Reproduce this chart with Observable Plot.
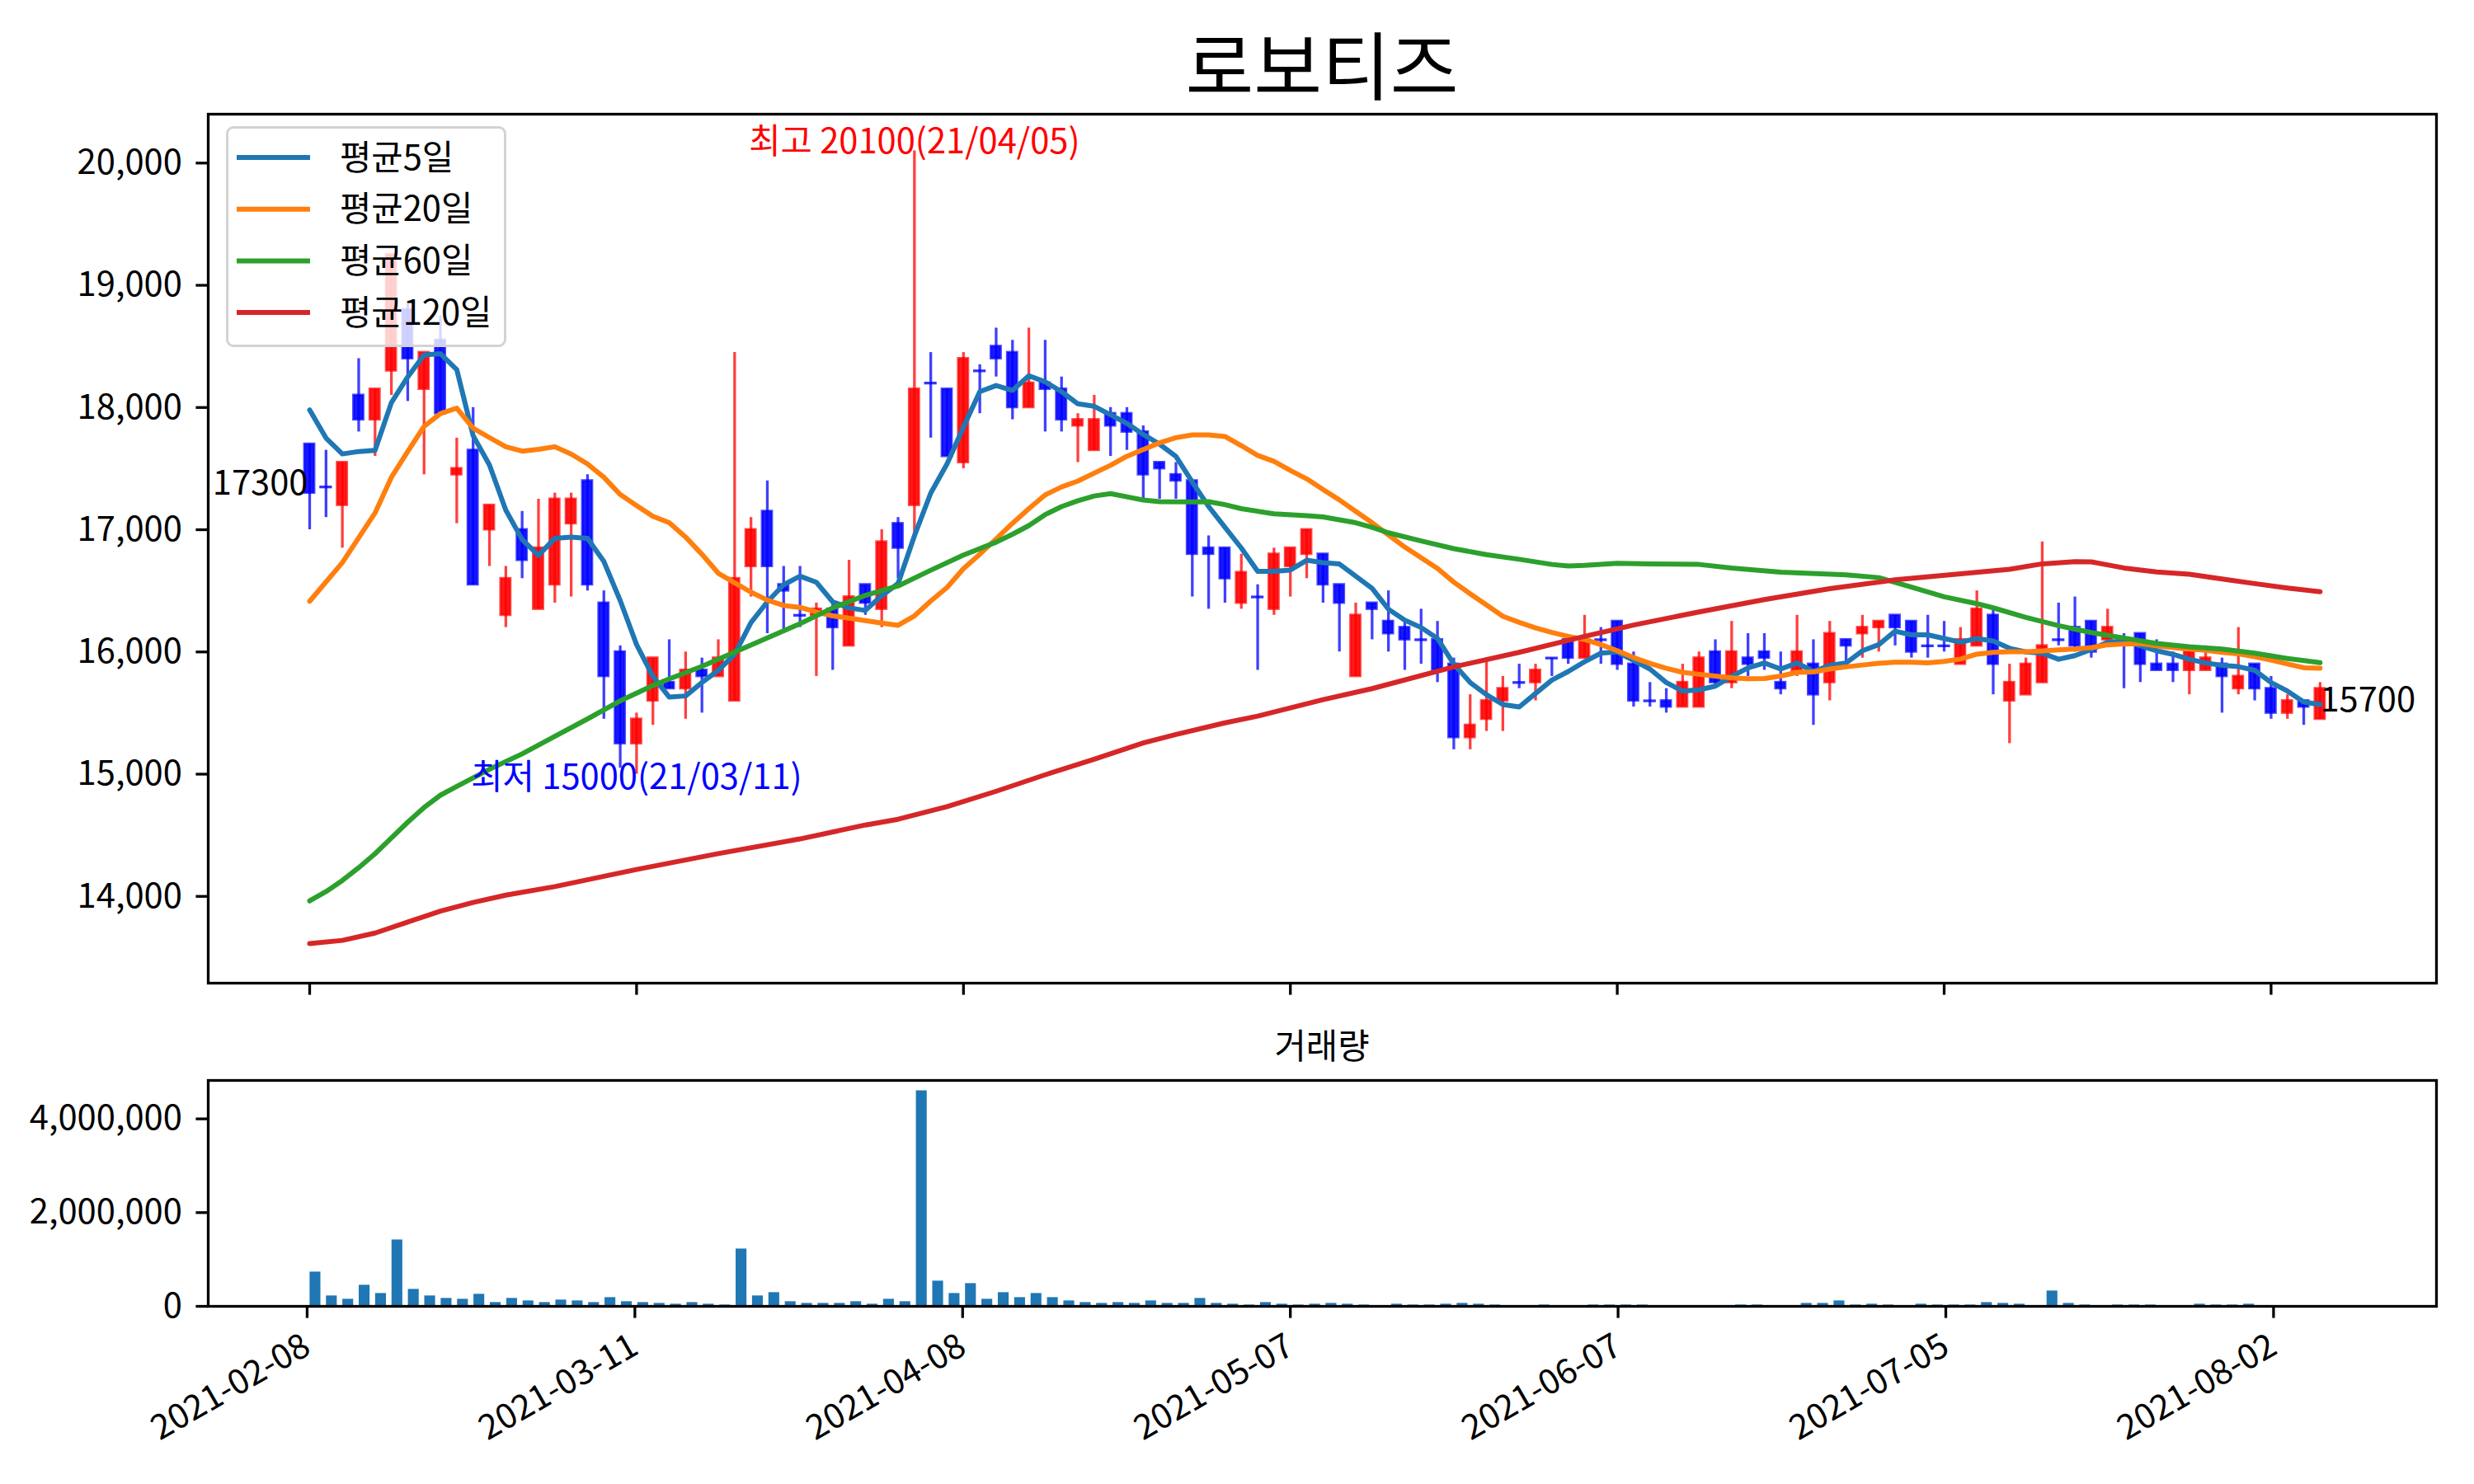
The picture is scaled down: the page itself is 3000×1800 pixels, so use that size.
<!DOCTYPE html>
<html><head><meta charset="utf-8">
<script src="https://cdn.jsdelivr.net/npm/d3@7"></script>
<script src="https://cdn.jsdelivr.net/npm/@observablehq/plot@0.6"></script>
<style>
body{margin:0;background:#fff;}
#wrap{position:relative;width:3000px;height:1800px;overflow:hidden;font-family:"Noto Sans CJK KR","Noto Sans",sans-serif;color:#000;}
#title{position:absolute;left:252px;width:2702px;top:30px;text-align:center;font-size:90px;line-height:1;}
#vtitle{position:absolute;left:252px;width:2702px;top:1246px;text-align:center;font-size:41.7px;line-height:1;}
#main{position:absolute;left:0;top:0;}
#vol{position:absolute;left:0;top:1230px;}
#legend{position:absolute;left:274px;top:153px;width:334px;height:262px;border:3px solid #d3d3d3;border-radius:9px;background:rgba(255,255,255,0.8);}
</style></head><body>
<div id="wrap">
  <div id="main"></div>
  <div id="vol"></div>
  <div id="title"></div>
  <div id="vtitle"></div>
  <div id="legend"></div>
</div>
<script>
const FONT = '"Noto Sans CJK KR","Noto Sans",sans-serif';
const chartTitle = "로보티즈";
const volumeTitle = "거래량";
const tickDates = ["2021-02-08","2021-03-11","2021-04-08","2021-05-07","2021-06-07","2021-07-05","2021-08-02"];
const maLabels = ["평균5일","평균20일","평균60일","평균120일"];
const maColors = ["#1f77b4","#ff7f0e","#2ca02c","#d62728"];

const opens = [17700,17350,17200,18100,17900,18300,18800,18150,18550,17450,17650,17000,16300,17000,16350,16550,17050,17400,16400,16000,
15250,15600,15750,15700,15850,15800,15600,16700,17150,16550,16300,16300,16350,16050,16550,16350,17050,17200,18200,18150,
17550,18300,18500,18450,18000,18200,18150,17850,17650,17950,17950,17800,17550,17450,17400,16850,16850,16400,16450,16350,
16700,16800,16800,16550,15800,16400,16250,16200,16100,16100,15900,15300,15450,15600,15750,15750,15950,16100,15950,16100,
16250,15900,15600,15600,15550,15550,16000,15750,15950,16000,15750,15850,15900,15750,16100,16150,16200,16300,16250,16050,
16050,15900,16050,16300,15600,15650,15750,16100,16200,16250,16100,16100,16150,15900,15900,15850,15850,15900,15700,15900,
15700,15500,15600,15450];
const highs = [17700,17650,17550,18400,18150,19250,18850,18450,18750,17750,18000,17200,16700,17150,17250,17300,17300,17450,16500,16050,
15500,15950,16100,16000,15950,16100,18450,17100,17400,16700,16700,16400,16400,16750,16550,17000,17100,20100,18450,18150,
18450,18350,18650,18550,18650,18550,18250,17950,18100,18000,18000,17850,17550,17550,17400,16950,16850,16800,16550,16850,
16850,17000,16800,16550,16400,16400,16500,16250,16350,16250,15950,15650,15950,15800,15900,15900,15950,16100,16300,16200,
16250,16000,15750,15700,15900,16000,16100,16250,16150,16150,16000,16300,16100,16250,16100,16300,16250,16300,16250,16300,
16250,16200,16500,16350,15900,15950,16900,16400,16450,16250,16350,16150,16150,16100,16000,16000,16050,15950,16200,15900,
15800,15650,15600,15750];
const lows = [17000,17100,16850,17800,17600,18100,18050,17450,17950,17050,16550,16700,16200,16600,16350,16400,16450,16500,15450,15050,
15000,15400,15700,15450,15500,15800,15600,16450,16150,16150,16200,15800,15850,16050,16300,16200,16600,16950,17750,17600,
17500,17950,18250,17900,18000,17800,17800,17550,17650,17600,17650,17250,17250,17250,16450,16350,16400,16350,15850,16300,
16450,16600,16400,16000,15800,16100,16000,15850,15900,15750,15200,15200,15350,15350,15700,15600,15800,15900,15950,15900,
15850,15550,15550,15500,15550,15550,15700,15700,15800,15850,15650,15800,15400,15600,15900,15950,16000,16050,15950,15950,
16000,15900,16050,15650,15250,15650,15750,16050,16000,15950,16100,15700,15750,15850,15750,15650,15850,15500,15650,15600,
15450,15450,15400,15450];
const closes = [17300,17350,17550,17900,18150,19250,18400,18450,17950,17500,16550,17200,16600,16750,16850,17250,17250,16550,15800,15250,
15450,15950,15700,15850,15800,15950,16600,17000,16700,16500,16300,16350,16200,16450,16400,16900,16850,18150,18200,17600,
18400,18300,18400,18000,18200,18150,17900,17900,17900,17850,17800,17450,17500,17400,16800,16800,16600,16650,16450,16800,
16850,17000,16550,16400,16300,16350,16150,16100,16100,15850,15300,15400,15600,15700,15750,15850,15950,15950,16100,16100,
15900,15600,15600,15550,15750,15950,15750,16000,15900,15950,15700,16000,15650,16150,16050,16200,16250,16200,16000,16050,
16050,16100,16350,15900,15750,15900,16050,16100,16050,16000,16200,16100,15900,15850,15850,16000,15950,15800,15800,15700,
15500,15600,15550,15700];
const volumes = [732000,223000,152000,451000,275000,1417000,363000,223000,170000,152000,258000,82000,170000,117000,82000,135000,117000,82000,187000,100000,
82000,64000,47000,82000,47000,29000,1224000,223000,293000,100000,64000,64000,64000,100000,47000,152000,100000,4600000,539000,275000,
486000,152000,293000,187000,275000,187000,117000,82000,64000,82000,64000,117000,64000,64000,170000,64000,47000,29000,82000,47000,
29000,47000,64000,47000,29000,10000,47000,29000,29000,47000,64000,47000,29000,10000,10000,29000,10000,10000,29000,29000,
29000,29000,10000,10000,10000,10000,10000,29000,29000,10000,10000,64000,64000,117000,29000,47000,29000,10000,47000,29000,
29000,29000,82000,64000,47000,10000,328000,64000,29000,10000,29000,29000,29000,10000,10000,47000,29000,29000,47000,10000,
10000,10000,10000,10000];
const ma5 = [17980,17750,17620,17640,17650,18040,18250,18430,18440,18310,17770,17530,17160,16920,16790,16930,16940,16930,16740,16420,
16060,15800,15630,15640,15750,15850,15980,16240,16410,16550,16620,16570,16410,16360,16340,16460,16560,16950,17300,17540,
17840,18130,18180,18140,18260,18210,18130,18030,18010,17940,17870,17780,17700,17600,17390,17190,17020,16850,16660,16660,
16670,16750,16730,16720,16620,16520,16350,16260,16200,16110,15900,15750,15650,15570,15550,15660,15770,15840,15920,15990,
16000,15930,15860,15750,15680,15690,15720,15800,15870,15910,15860,15910,15840,15890,15910,16010,16060,16170,16140,16140,
16110,16080,16110,16090,16030,16000,15990,15940,15970,16020,16080,16090,16050,16010,15980,15940,15910,15890,15880,15850,
15750,15680,15590,15570];
const ma20 = [[0,16415],[2,16731],[4,17137],[5,17429],[6,17640],[7,17845],[8,17950],[9,17995],[10,17830],[11,17754],[12,17679],[13,17643],[14,17658],[15,17679],[16,17619],[17,17538],[18,17429],[19,17288],[20,17198],[21,17110],[22,17057],[23,16940],[24,16799],[25,16644],[26,16566],[27,16489],[28,16424],[29,16380],[30,16365],[31,16326],[32,16295],[33,16277],[34,16256],[35,16236],[36,16218],[37,16295],[38,16417],[39,16528],[40,16682],[41,16800],[42,16925],[43,17053],[44,17172],[45,17285],[46,17350],[47,17398],[48,17463],[49,17527],[50,17601],[51,17656],[52,17711],[53,17753],[54,17776],[55,17776],[56,17763],[57,17688],[58,17608],[59,17559],[60,17485],[61,17416],[62,17329],[63,17244],[64,17150],[65,17057],[66,16958],[67,16858],[68,16771],[69,16683],[70,16571],[71,16476],[72,16384],[73,16292],[74,16242],[75,16197],[76,16160],[77,16127],[78,16102],[79,16060],[80,16010],[81,15954],[82,15907],[83,15866],[84,15833],[85,15817],[86,15803],[87,15788],[88,15781],[89,15783],[90,15803],[91,15833],[92,15837],[93,15860],[94,15878],[95,15893],[96,15907],[97,15916],[98,15916],[99,15911],[100,15923],[101,15942],[102,15982],[103,15997],[104,16002],[105,16002],[106,16008],[107,16017],[108,16024],[109,16035],[110,16058],[111,16065],[112,16069],[113,16051],[114,16035],[115,16024],[116,16013],[117,15997],[118,15984],[119,15961],[120,15934],[121,15901],[122,15871],[123,15867]];
const ma60 = [[0,13963],[1,14039],[2,14130],[3,14235],[4,14349],[5,14478],[6,14607],[7,14727],[8,14828],[9,14900],[11,15040],[13,15166],[15,15310],[17,15452],[19,15600],[21,15725],[22,15779],[24,15882],[26,15998],[28,16115],[30,16231],[32,16360],[34,16463],[36,16540],[38,16669],[40,16793],[42,16898],[43,16963],[44,17034],[45,17124],[46,17189],[47,17237],[48,17276],[49,17295],[50,17269],[51,17243],[52,17230],[54,17227],[55,17230],[56,17205],[57,17172],[59,17130],[61,17115],[62,17105],[64,17057],[65,17020],[66,16975],[68,16908],[70,16845],[72,16796],[74,16758],[76,16716],[77,16703],[78,16708],[80,16726],[82,16721],[85,16716],[87,16687],[90,16653],[94,16631],[96,16608],[98,16530],[100,16451],[102,16395],[103,16361],[105,16283],[107,16215],[109,16159],[111,16114],[113,16069],[115,16042],[117,16024],[119,15990],[121,15946],[123,15912]];
const ma120 = [[0,13614],[2,13640],[4,13700],[6,13790],[8,13880],[10,13950],[12,14010],[15,14080],[20,14220],[25,14350],[30,14470],[34,14584],[36,14631],[39,14734],[42,14860],[45,14995],[48,15123],[51,15255],[53,15325],[56,15420],[58,15475],[62,15610],[65,15700],[70,15878],[74,15997],[78,16127],[81,16220],[85,16327],[89,16428],[93,16518],[97,16590],[101,16640],[104,16676],[106,16721],[108,16739],[109,16737],[111,16687],[113,16654],[115,16636],[117,16597],[119,16559],[121,16523],[123,16492]];
const highNote = {i: 37, price: 20100, text: "최고 20100(21/04/05)"};
const lowNote = {i: 20, price: 15000, text: "최저 15000(21/03/11)"};
const yTicks = [14000,15000,16000,17000,18000,19000,20000];
const volTicks = [0,2000000,4000000];
const xTickIdx = [0,20,40,60,80,100,120];

const UP = "#ff0000", DOWN = "#0000ff";
const candles = closes.map((c, i) => ({i, o: opens[i], h: highs[i], l: lows[i], c, col: c > opens[i] ? UP : DOWN}));
const bodies = candles.filter(d => d.o !== d.c);
const dojis = candles.filter(d => d.o === d.c);
const maSeries = [
  ma5.map((v, i) => ({i, v, k: 0})),
  ma20.map(([i, v]) => ({i, v, k: 1})),
  ma60.map(([i, v]) => ({i, v, k: 2})),
  ma120.map(([i, v]) => ({i, v, k: 3}))
];
const n = closes.length;
const fmt = d3.format(",");

const main = Plot.plot({
  width: 3000, height: 1230,
  marginLeft: 252, marginRight: 46, marginTop: 138, marginBottom: 38,
  x: {type: "linear", domain: [-6.206, 130.12]},
  y: {type: "linear", domain: [13290, 20400]},
  color: {type: "identity"},
  style: {background: "transparent", fontFamily: FONT, fontSize: "41.7px", overflow: "visible"},
  marks: [
    Plot.ruleX(candles, {x: "i", y1: "l", y2: "h", stroke: "col", strokeOpacity: 0.75, strokeWidth: 3.3}),
    Plot.rect(bodies, {x1: d => d.i - 0.3, x2: d => d.i + 0.3, y1: "o", y2: "c", fill: "col", fillOpacity: 0.9, stroke: "col", strokeOpacity: 0.7, strokeWidth: 3}),
    Plot.ruleY(dojis, {x1: d => d.i - 0.3, x2: d => d.i + 0.3, y: "c", stroke: "col", strokeOpacity: 0.8, strokeWidth: 3.3, strokeLinecap: "square"}),
    ...maSeries.map((s, k) => Plot.line(s, {x: "i", y: "v", stroke: maColors[k], strokeWidth: 6})),
    Plot.text([highNote], {x: "i", y: "price", text: "text", fill: UP, fontSize: 41.7, textAnchor: "middle", dy: -10}),
    Plot.text([lowNote], {x: "i", y: "price", text: "text", fill: DOWN, fontSize: 41.7, textAnchor: "middle", dy: 5}),
    Plot.text([{i: 0, v: closes[0]}], {x: "i", y: "v", text: d => String(d.v), fill: "black", fontSize: 41.7, textAnchor: "end", dx: -2, dy: -11}),
    Plot.text([{i: n - 1, v: closes[n - 1]}], {x: "i", y: "v", text: d => String(d.v), fill: "black", fontSize: 41.7, textAnchor: "start", dx: 0, dy: 14}),
    Plot.frame({stroke: "black", strokeWidth: 3.3}),
    Plot.axisY({ticks: yTicks, tickFormat: fmt, tickSize: 14.6, tickPadding: 17, strokeWidth: 3.3, fontSize: 41.7, label: null}),
    Plot.axisX({ticks: xTickIdx, tickFormat: () => "", tickSize: 14.6, strokeWidth: 3.3, label: null})
  ]
});
document.getElementById("main").appendChild(main);

const volData = volumes.map((v, i) => ({i, v}));
const vol = Plot.plot({
  width: 3000, height: 570,
  marginLeft: 252, marginRight: 46, marginTop: 80, marginBottom: 216,
  x: {type: "linear", domain: [-6.54, 129.44]},
  y: {type: "linear", domain: [0, 4820000]},
  style: {background: "transparent", fontFamily: FONT, fontSize: "41.7px", overflow: "visible"},
  marks: [
    Plot.rect(volData, {x1: d => d.i - 0.33, x2: d => d.i + 0.33, y1: 0, y2: "v", fill: "#1f77b4"}),
    Plot.frame({stroke: "black", strokeWidth: 3.3}),
    Plot.axisY({ticks: volTicks, tickFormat: fmt, tickSize: 14.6, tickPadding: 17, strokeWidth: 3.3, fontSize: 41.7, label: null}),
    Plot.axisX({ticks: xTickIdx, tickFormat: i => tickDates[i / 20], tickRotate: -30, tickSize: 14.6, tickPadding: 30, dx: -10, strokeWidth: 3.3, fontSize: 41.7, label: null})
  ]
});
document.getElementById("vol").appendChild(vol);

document.getElementById("title").textContent = chartTitle;
document.getElementById("vtitle").textContent = volumeTitle;

// legend
const leg = d3.select("#legend").append("svg").attr("width", 334).attr("height", 262).style("overflow", "visible");
maLabels.forEach((lab, k) => {
  const y = 35 + k * 62.7;
  leg.append("line").attr("x1", 10).attr("x2", 99).attr("y1", y).attr("y2", y).attr("stroke", maColors[k]).attr("stroke-width", 6);
  leg.append("text").attr("x", 135).attr("y", y).attr("dy", "0.35em").attr("font-size", 41.7).attr("font-family", FONT).attr("fill", "black").text(lab);
});
</script>
</body></html>
